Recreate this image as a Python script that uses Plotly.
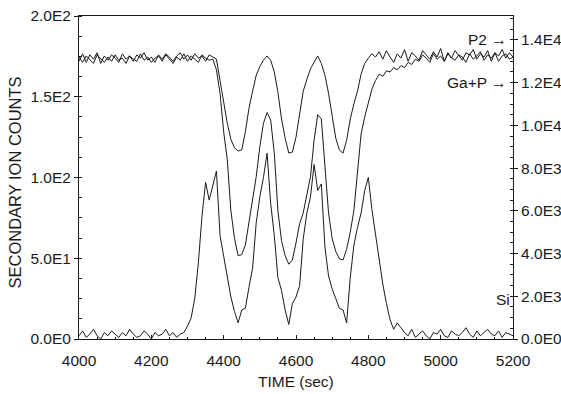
import plotly.graph_objects as go

# Time axis (sec), one sample every 10 s
time_s = list(range(4000, 5201, 10))

# P2 signal (right axis, counts)
p2_counts = [
    13000, 13350, 12950, 13300, 13100, 13400, 12900, 13250, 13050, 13300,
    13150, 12950, 13350, 13100, 13250, 13000, 13300, 13150, 13400, 13050,
    13200, 12950, 13300, 13100, 13350, 13200, 13000, 13250, 13400, 13100,
    13300, 13050, 13350, 13150, 13250, 13000, 13300, 13200,
    13100, 12100, 11000, 10100, 9350, 8950, 8800, 8850, 9700, 10800,
    11600, 12350, 12750, 13050, 13250, 13050, 12500, 11550, 10300, 9400,
    8700, 8750, 9450, 10600, 11600, 12150, 12650, 12950, 13250, 12900,
    12350, 11500, 10500, 9400, 8850, 8700, 9300, 10300, 11000, 11600,
    12400, 12900, 13150, 13350, 13200,
    13450, 13100, 13500, 13200, 12950, 13350, 13150, 13550, 13000, 13400,
    13250, 13050, 13500, 13300, 13100, 13450, 13200, 13600, 13000, 13350,
    13150, 13500, 13250, 13050, 13400, 13300, 13550, 13100, 13350, 13200,
    13500, 13000, 13400, 13250, 13550, 13150, 13400, 13200,
]

# Ga+P signal (right axis, counts)
gap_counts = [
    13200, 12950, 13250, 13050, 12900, 13300, 13100, 12950, 13200, 13000,
    13300, 13050, 13150, 12900, 13250, 13100, 13000, 13350, 13050, 13200,
    12950, 13150, 13250, 13000, 13300, 13100, 12900, 13200, 13050, 13350,
    13000, 13250, 13100, 12950, 13300, 13150, 13050,
    13100, 12600, 11500, 9700, 8400, 6000, 4700, 3900, 3950, 4400,
    5400, 6500, 7600, 9000, 10100, 10600, 10250, 8700, 6000, 4600,
    3900, 3500, 3700, 4500, 5400, 5900, 6800, 7600, 9300, 10500,
    10300, 7900, 5900, 4700, 4100, 3750, 3700, 4200, 5000, 6000,
    8000, 9600, 10400, 11100, 11700, 12100, 12400, 12300, 12550, 12500,
    12700, 12600, 12800, 12700, 12950, 12850, 13100,
    13000, 13300, 13150, 12950, 13350, 13100, 13250, 13000, 13400, 13150,
    13050, 13300, 13200, 12950, 13350, 13100, 13250, 13450, 13050, 13300,
    13150, 13400, 13000, 13250, 13350, 13100, 13200,
]

# Si signal (left axis, counts)
si_counts = [
    2, 5, 1, 3, 6, 2, 0, 4, 2, 5, 3, 1, 4, 2, 6, 3, 1, 2, 5, 3,
    0, 4, 2, 3, 6, 2, 4, 1, 3,
    4, 8, 13, 25, 47, 76, 97, 86, 96, 104,
    64, 52, 40, 26, 17, 10, 18, 19, 32, 44,
    72, 88, 100, 115, 84, 64, 38, 30, 18, 9,
    22, 26, 33, 62, 78, 88, 108, 92, 96, 57,
    39, 31, 25, 19, 18, 10, 38, 58, 69, 78,
    92, 100, 80, 64, 48, 34, 22, 12, 6, 10,
    7,
    4, 2, 6, 1, 3, 5, 2, 0, 4, 3, 6, 2, 1, 5, 3, 2, 4, 7, 3, 1,
    5, 2, 4, 6, 3, 2, 5, 1, 4, 3, 2,
]

x_ticks = [4000, 4200, 4400, 4600, 4800, 5000, 5200]
left_ticks = [0, 50, 100, 150, 200]
left_labels = ["0.0E0", "5.0E1", "1.0E2", "1.5E2", "2.0E2"]
right_ticks = [0, 2000, 4000, 6000, 8000, 10000, 12000, 14000]
right_labels = ["0.0E0", "2.0E3", "4.0E3", "6.0E3", "8.0E3", "1.0E4", "1.2E4", "1.4E4"]

INK = "#1a1a1a"
FONT = "Liberation Sans, Arial, sans-serif"
TICK_SIZE = 15.5

fig = go.Figure()
fig.add_trace(go.Scatter(x=time_s, y=p2_counts, yaxis="y2", mode="lines",
                         line=dict(color=INK, width=1), name="P2"))
fig.add_trace(go.Scatter(x=time_s, y=gap_counts, yaxis="y2", mode="lines",
                         line=dict(color=INK, width=1), name="Ga+P"))
fig.add_trace(go.Scatter(x=time_s, y=si_counts, yaxis="y", mode="lines",
                         line=dict(color=INK, width=1), name="Si"))

fig.update_layout(
    width=561, height=394,
    margin=dict(l=79, r=48, t=16, b=55, autoexpand=False),
    paper_bgcolor="white", plot_bgcolor="white",
    showlegend=False,
    font=dict(family=FONT, size=TICK_SIZE, color=INK),
    xaxis=dict(range=[4000, 5200], tickvals=x_ticks, ticks="inside", ticklen=4,
               tickcolor=INK, showline=True, linecolor=INK, linewidth=1, mirror=True,
               showgrid=False, zeroline=False, ticklabelstandoff=7, automargin=False,
               minor=dict(ticks="inside", ticklen=2, dtick=50, tickcolor=INK, showgrid=False),
               tickfont=dict(size=TICK_SIZE)),
    yaxis=dict(range=[0, 200], tickvals=left_ticks, ticktext=left_labels,
               ticks="outside", ticklen=4, tickcolor=INK, showline=True,
               linecolor=INK, linewidth=1, showgrid=False, zeroline=False,
               automargin=False,
               minor=dict(ticks="inside", ticklen=3, dtick=12.5, tickcolor=INK, showgrid=False),
               tickfont=dict(size=TICK_SIZE)),
    yaxis2=dict(range=[0, 15120], overlaying="y", side="right",
                tickvals=right_ticks, ticktext=right_labels,
                ticks="outside", ticklen=4, tickcolor=INK, showline=True,
                linecolor=INK, linewidth=1, showgrid=False, zeroline=False,
                automargin=False,
                minor=dict(ticks="inside", ticklen=3, dtick=500, tickcolor=INK, showgrid=False),
                tickfont=dict(size=TICK_SIZE)),
    annotations=[
        dict(text="TIME (sec)", xref="paper", yref="paper", x=0.5, y=0,
             xanchor="center", yanchor="middle", yshift=-42, showarrow=False,
             font=dict(size=TICK_SIZE)),
        dict(text="SECONDARY ION COUNTS", xref="paper", yref="paper", x=0, y=0.5,
             xshift=-65, yshift=-5, xanchor="center", yanchor="middle", textangle=-90,
             showarrow=False, font=dict(size=16.5)),
        dict(text="P2 \u2192", xref="paper", yref="y2", x=0.99, y=14000,
             xanchor="right", yanchor="middle", showarrow=False, font=dict(size=TICK_SIZE)),
        dict(text="Ga+P \u2192", xref="paper", yref="y2", x=0.99, y=12000,
             xanchor="right", yanchor="middle", showarrow=False, font=dict(size=TICK_SIZE)),
        dict(text="Si", xref="paper", yref="y2", x=0.998, y=1850,
             xanchor="right", yanchor="middle", showarrow=False, font=dict(size=TICK_SIZE)),
    ],
)

fig.write_html("out.html")
